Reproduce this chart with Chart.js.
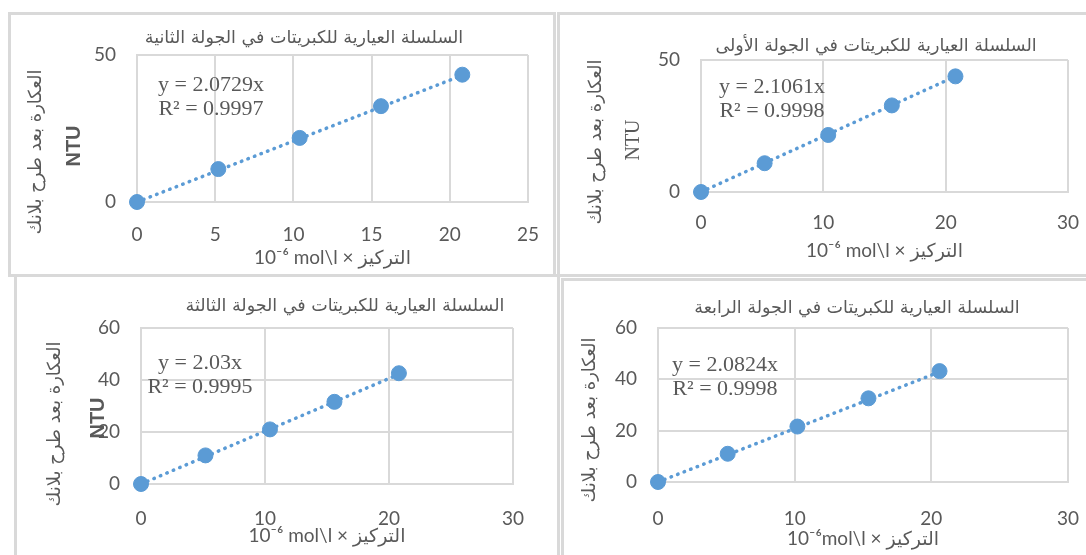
<!DOCTYPE html>
<html>
<head>
<meta charset="utf-8">
<script src="https://cdn.jsdelivr.net/npm/chart.js@4/dist/chart.umd.min.js"></script>
<style>
  body { margin: 0; background: #fff; width: 1086px; height: 555px; overflow: hidden; position: relative; }
  .frame { position: absolute; border: 3px solid #d9d9d9; box-sizing: border-box; }
  canvas { position: absolute; }
</style>
</head>
<body>
<div class="frame" style="left:8px;top:12px;width:548px;height:265px"></div>
<div class="frame" style="left:557px;top:12px;width:560px;height:265px"></div>
<div class="frame" style="left:14px;top:274px;width:546px;height:300px"></div>
<div class="frame" style="left:561px;top:278px;width:560px;height:300px"></div>

<canvas id="c2" width="542" height="259" style="left:11px;top:15px"></canvas>
<canvas id="c1" width="525" height="259" style="left:561px;top:15px"></canvas>
<canvas id="c3" width="538" height="276" style="left:18px;top:279px"></canvas>
<canvas id="c4" width="521" height="273" style="left:565px;top:282px"></canvas>

<script>
// البيانات: التركيز (10^-6 mol/l) والعكارة (NTU) لكل جولة
const conc1 = [0, 5.2, 10.4, 15.6, 20.8];
const turb1 = [0, 10.9, 21.6, 32.8, 43.8];
const trend1 = [[0, 0], [20.8, 43.8]];

const conc2 = [0, 5.2, 10.4, 15.6, 20.8];
const turb2 = [0, 11.2, 21.8, 32.6, 43.3];
const trend2 = [[0, 0], [20.8, 43.1]];

const conc3 = [0, 5.2, 10.4, 15.6, 20.8];
const turb3 = [0, 11.0, 21.0, 31.6, 42.6];
const trend3 = [[0, 0], [20.8, 42.2]];

const conc4 = [0, 5.1, 10.2, 15.4, 20.6];
const turb4 = [0, 11.0, 21.6, 32.6, 43.2];
const trend4 = [[0, 0], [20.6, 42.9]];

const xTicks1 = [0, 10, 20, 30], yTicks1 = [0, 50];
const xTicks2 = [0, 5, 10, 15, 20, 25], yTicks2 = [0, 50];
const xTicks3 = [0, 10, 20, 30], yTicks3 = [0, 20, 40, 60];
const xTicks4 = [0, 10, 20, 30], yTicks4 = [0, 20, 40, 60];

const titles = {
  c1: 'السلسلة العيارية للكبريتات في الجولة الأولى',
  c2: 'السلسلة العيارية للكبريتات في الجولة الثانية',
  c3: 'السلسلة العيارية للكبريتات في الجولة الثالثة',
  c4: 'السلسلة العيارية للكبريتات في الجولة الرابعة'
};
const yTitle = 'العكارة بعد طرح بلانك';
const equations = {
  c1: ['y = 2.1061x', 'R² = 0.9998'],
  c2: ['y = 2.0729x', 'R² = 0.9997'],
  c3: ['y = 2.03x', 'R² = 0.9995'],
  c4: ['y = 2.0824x', 'R² = 0.9998']
};

const BLUE = '#5b9bd5';
const GREY = '#595959';
const GRID = '#d9d9d9';
const TICK_FONT = 'Lato, "DejaVu Sans", sans-serif';

// نصوص إضافية: العنوان، عنوان المحور y، معادلة خط الاتجاه
const decor = {
  id: 'decor',
  afterDraw(chart, args, o) {
    const ctx = chart.ctx;
    const a = chart.chartArea;
    ctx.save();
    ctx.fillStyle = GREY;
    ctx.textAlign = 'center';
    ctx.textBaseline = 'middle';

    ctx.font = '17.5px "DejaVu Sans", sans-serif';
    ctx.fillText(o.title, o.titleAt[0] - o.ox, o.titleAt[1] - o.oy);

    // عنوان المحور العمودي (مدوّر)
    ctx.save();
    ctx.translate(o.yTitleAt[0] - o.ox, o.yTitleAt[1] - o.oy);
    ctx.rotate(-Math.PI / 2);
    ctx.font = '18px "DejaVu Sans", sans-serif';
    ctx.fillText(yTitle, 0, 0);
    ctx.restore();

    if (o.ntu) {
      ctx.save();
      ctx.translate(o.ntu.at[0] - o.ox, o.ntu.at[1] - o.oy);
      ctx.rotate(-Math.PI / 2);
      ctx.font = o.ntu.font;
      ctx.fillStyle = o.ntu.color;
      ctx.fillText('NTU', 0, 0);
      ctx.restore();
    }

    ctx.font = '22px "Liberation Serif", serif';
    ctx.fillText(o.eq[0], a.left + o.eqAt[0], a.top + o.eqAt[1]);
    ctx.fillText(o.eq[1], a.left + o.eqAt[0], a.top + o.eqAt[1] + 24);
    ctx.restore();
  }
};

function pts(xs, ys) {
  return xs.map((x, i) => ({ x: x, y: ys[i] }));
}

function makeChart(id, p) {
  const cv = document.getElementById(id);
  return new Chart(cv, {
    type: 'scatter',
    data: {
      datasets: [
        {
          data: p.trend.map(t => ({ x: t[0], y: t[1] })),
          showLine: true,
          borderColor: BLUE,
          borderWidth: 3.5,
          borderDash: [0.5, 6.5],
          borderCapStyle: 'round',
          pointRadius: 0,
          clip: false,
          order: 2
        },
        {
          data: pts(p.x, p.y),
          backgroundColor: BLUE,
          borderColor: BLUE,
          pointRadius: 7.5,
          pointHoverRadius: 7.5,
          clip: false,
          order: 1
        }
      ]
    },
    options: {
      responsive: false,
      animation: false,
      layout: { padding: { left: p.pad[0], top: p.pad[1], right: p.pad[2], bottom: 0 } },
      plugins: {
        legend: { display: false },
        tooltip: { enabled: false },
        decor: {
          ox: p.ox, oy: p.oy,
          title: titles[id], titleAt: p.titleAt,
          yTitleAt: p.yTitleAt, ntu: p.ntu,
          eq: equations[id], eqAt: p.eqAt
        }
      },
      scales: {
        x: {
          type: 'linear',
          min: p.xTicks[0],
          max: p.xTicks[p.xTicks.length - 1],
          afterBuildTicks: s => { s.ticks = p.xTicks.map(v => ({ value: v })); },
          afterFit: s => { s.height = p.xH; },
          // مسافة الأرقام عبر طول علامة شفافة حتى لا يضيق المخطط من اليمين
          grid: { color: GRID, lineWidth: 2, drawTicks: true, tickLength: p.xTickPad, tickColor: 'rgba(0,0,0,0)' },
          border: { color: GRID, width: 2 },
          ticks: { color: GREY, font: { family: TICK_FONT, size: 19 }, padding: 0 },
          title: {
            display: true,
            text: p.xTitle,
            color: GREY,
            font: { family: TICK_FONT, size: 19 },
            padding: { top: 0, bottom: p.xTitlePad }
          }
        },
        y: {
          type: 'linear',
          min: p.yTicks[0],
          max: p.yTicks[p.yTicks.length - 1],
          afterBuildTicks: s => { s.ticks = p.yTicks.map(v => ({ value: v })); },
          afterFit: s => { s.width = 60; },
          grid: { color: GRID, lineWidth: 2, drawTicks: false },
          border: { color: GRID, width: 2 },
          ticks: { color: GREY, font: { family: TICK_FONT, size: 19 }, padding: 21 }
        }
      }
    },
    plugins: [decor]
  });
}

makeChart('c2', {
  x: conc2, y: turb2, trend: trend2, xTicks: xTicks2, yTicks: yTicks2,
  ox: 11, oy: 15, pad: [66, 40, 25], xH: 72, xTickPad: 21, xTitlePad: 5,
  xTitle: '10⁻⁶ mol\\l × التركيز',
  titleAt: [304, 38], yTitleAt: [36, 152],
  ntu: { at: [74, 146], font: 'bold 20px "Liberation Sans", sans-serif', color: GREY },
  eqAt: [74, 30]
});

makeChart('c1', {
  x: conc1, y: turb1, trend: trend1, xTicks: xTicks1, yTicks: yTicks1,
  ox: 561, oy: 15, pad: [80, 45, 18], xH: 82, xTickPad: 19, xTitlePad: 12,
  xTitle: '10⁻⁶ mol\\l × التركيز',
  titleAt: [876, 46], yTitleAt: [596, 142],
  ntu: { at: [634, 140], font: '20px "Liberation Serif", serif', color: GREY },
  eqAt: [71, 27]
});

makeChart('c3', {
  x: conc3, y: turb3, trend: trend3, xTicks: xTicks3, yTicks: yTicks3,
  ox: 18, oy: 279, pad: [63, 49, 43], xH: 71, xTickPad: 23, xTitlePad: 8,
  xTitle: '10⁻⁶ mol\\l × التركيز',
  titleAt: [345, 306], yTitleAt: [55, 424],
  ntu: { at: [98, 418], font: 'bold 20px "Liberation Sans", sans-serif', color: GREY },
  eqAt: [59, 35]
});

makeChart('c4', {
  x: conc4, y: turb4, trend: trend4, xTicks: xTicks4, yTicks: yTicks4,
  ox: 565, oy: 282, pad: [33, 46, 18], xH: 73, xTickPad: 25, xTitlePad: 5,
  xTitle: '10⁻⁶mol\\l × التركيز',
  titleAt: [857, 308], yTitleAt: [590, 420],
  ntu: null,
  eqAt: [67, 37]
});
</script>
</body>
</html>
